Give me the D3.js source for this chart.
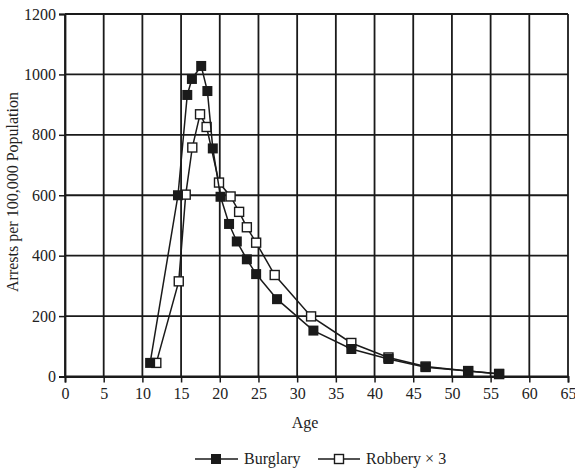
<!DOCTYPE html>
<html>
<head>
<meta charset="utf-8">
<script src="https://cdnjs.cloudflare.com/ajax/libs/d3/7.8.5/d3.min.js"></script>
<style>
  body { margin: 0; background: #fff; }
  text { font-family: "Liberation Serif", "DejaVu Serif", serif; fill: #222; }
</style>
</head>
<body>
<script>
// data
var burglaryAge = [11.0, 14.6, 15.8, 16.4, 17.6, 18.4, 19.1, 20.1, 21.2, 22.2, 23.5, 24.7, 27.4, 32.1, 37.0, 41.8, 46.6, 52.1, 56.1];
var burglary = [45, 600, 932, 985, 1028, 945, 755, 595, 505, 447, 388, 339, 256, 152, 91, 58, 31, 18, 9];

var robberyAge = [11.8, 14.7, 15.6, 16.45, 17.45, 18.3, 19.9, 21.4, 22.5, 23.5, 24.7, 27.1, 31.8, 37.0, 41.8, 46.6, 52.1, 56.1];
var robbery = [45, 315, 602, 758, 868, 826, 642, 596, 545, 494, 443, 336, 199, 111, 63, 33, 18, 8];

var xTicks = [0, 5, 10, 15, 20, 25, 30, 35, 40, 45, 50, 55, 60, 65];
var yTicks = [0, 200, 400, 600, 800, 1000, 1200];

// chart variables (window.top is taken, so plotTop)
var width = 575;
var height = 471;
var plotLeft = 65;
var plotRight = 568;
var plotTop = 14;
var plotBottom = 376.5;
var ink = "#1a1a1a";
var fontSize = "16px";

var svg = d3.select("body")
            .append("svg")
            .attr("width", width)
            .attr("height", height);

var xScale = d3.scaleLinear()
               .domain([0, 65])
               .range([plotLeft, plotRight]);
var yScale = d3.scaleLinear()
               .domain([0, 1200])
               .range([plotBottom, plotTop]);

// grid lines
svg.selectAll(".vgrid")
   .data(xTicks)
   .enter()
   .append("line")
   .attr("x1", function(d) { return xScale(d); })
   .attr("x2", function(d) { return xScale(d); })
   .attr("y1", yScale(0))
   .attr("y2", yScale(1200))
   .attr("stroke", ink)
   .attr("stroke-width", 1.8);

svg.selectAll(".hgrid")
   .data(yTicks)
   .enter()
   .append("line")
   .attr("x1", xScale(0))
   .attr("x2", xScale(65))
   .attr("y1", function(d) { return yScale(d); })
   .attr("y2", function(d) { return yScale(d); })
   .attr("stroke", ink)
   .attr("stroke-width", 1.8);

// axes
var xAxe = d3.axisBottom(xScale).tickValues(xTicks).tickSize(6).tickPadding(5);
var gx = svg.append("g")
   .attr("transform", "translate(" + [0, plotBottom] + ")")
   .call(xAxe);

var yAxe = d3.axisLeft(yScale).tickValues(yTicks).tickFormat(d3.format("d")).tickSize(6).tickPadding(3);
var gy = svg.append("g")
   .attr("transform", "translate(" + [plotLeft, 0] + ")")
   .call(yAxe);

[gx, gy].forEach(function(g) {
  g.select(".domain").attr("stroke", ink).attr("stroke-width", 1.8);
  g.selectAll(".tick line").attr("stroke", ink).attr("stroke-width", 1.5);
  g.selectAll(".tick text")
   .style("font-family", "'Liberation Serif', serif")
   .style("font-size", fontSize)
   .attr("fill", "#222");
});

// lines
var line = d3.line()
             .x(function(d) { return xScale(d[0]); })
             .y(function(d) { return yScale(d[1]); });

var robberyData = robberyAge.map(function(a, i) { return [a, robbery[i]]; });
var burglaryData = burglaryAge.map(function(a, i) { return [a, burglary[i]]; });

svg.append("path")
   .attr("d", line(robberyData))
   .attr("fill", "none")
   .attr("stroke", ink)
   .attr("stroke-width", 1.5);

svg.selectAll(".rob")
   .data(robberyData)
   .enter()
   .append("rect")
   .attr("x", function(d) { return xScale(d[0]) - 4.5; })
   .attr("y", function(d) { return yScale(d[1]) - 4.5; })
   .attr("width", 9)
   .attr("height", 9)
   .attr("fill", "#fff")
   .attr("stroke", ink)
   .attr("stroke-width", 1.4);

svg.append("path")
   .attr("d", line(burglaryData))
   .attr("fill", "none")
   .attr("stroke", ink)
   .attr("stroke-width", 1.5);

svg.selectAll(".burg")
   .data(burglaryData)
   .enter()
   .append("rect")
   .attr("x", function(d) { return xScale(d[0]) - 5; })
   .attr("y", function(d) { return yScale(d[1]) - 5; })
   .attr("width", 10)
   .attr("height", 10)
   .attr("fill", ink);

// axis labels
svg.append("text")
   .attr("x", 305)
   .attr("y", 428)
   .attr("text-anchor", "middle")
   .style("font-size", fontSize)
   .text("Age");

svg.append("text")
   .attr("text-anchor", "middle")
   .attr("transform", "translate(" + [18, 192] + ") rotate(-90)")
   .style("font-size", fontSize)
   .text("Arrests per 100,000 Population");

// legend
var legY = 459;
svg.append("line")
   .attr("x1", 195).attr("x2", 238)
   .attr("y1", legY).attr("y2", legY)
   .attr("stroke", ink).attr("stroke-width", 1.5);
svg.append("rect")
   .attr("x", 211).attr("y", legY - 5)
   .attr("width", 10).attr("height", 10)
   .attr("fill", ink);
svg.append("text")
   .attr("x", 244).attr("y", legY + 5)
   .style("font-size", fontSize)
   .text("Burglary");

svg.append("line")
   .attr("x1", 318).attr("x2", 360)
   .attr("y1", legY).attr("y2", legY)
   .attr("stroke", ink).attr("stroke-width", 1.5);
svg.append("rect")
   .attr("x", 334.5).attr("y", legY - 4.5)
   .attr("width", 9).attr("height", 9)
   .attr("fill", "#fff")
   .attr("stroke", ink).attr("stroke-width", 1.4);
svg.append("text")
   .attr("x", 366).attr("y", legY + 5)
   .style("font-size", fontSize)
   .text("Robbery \u00d7 3");
</script>
</body>
</html>
